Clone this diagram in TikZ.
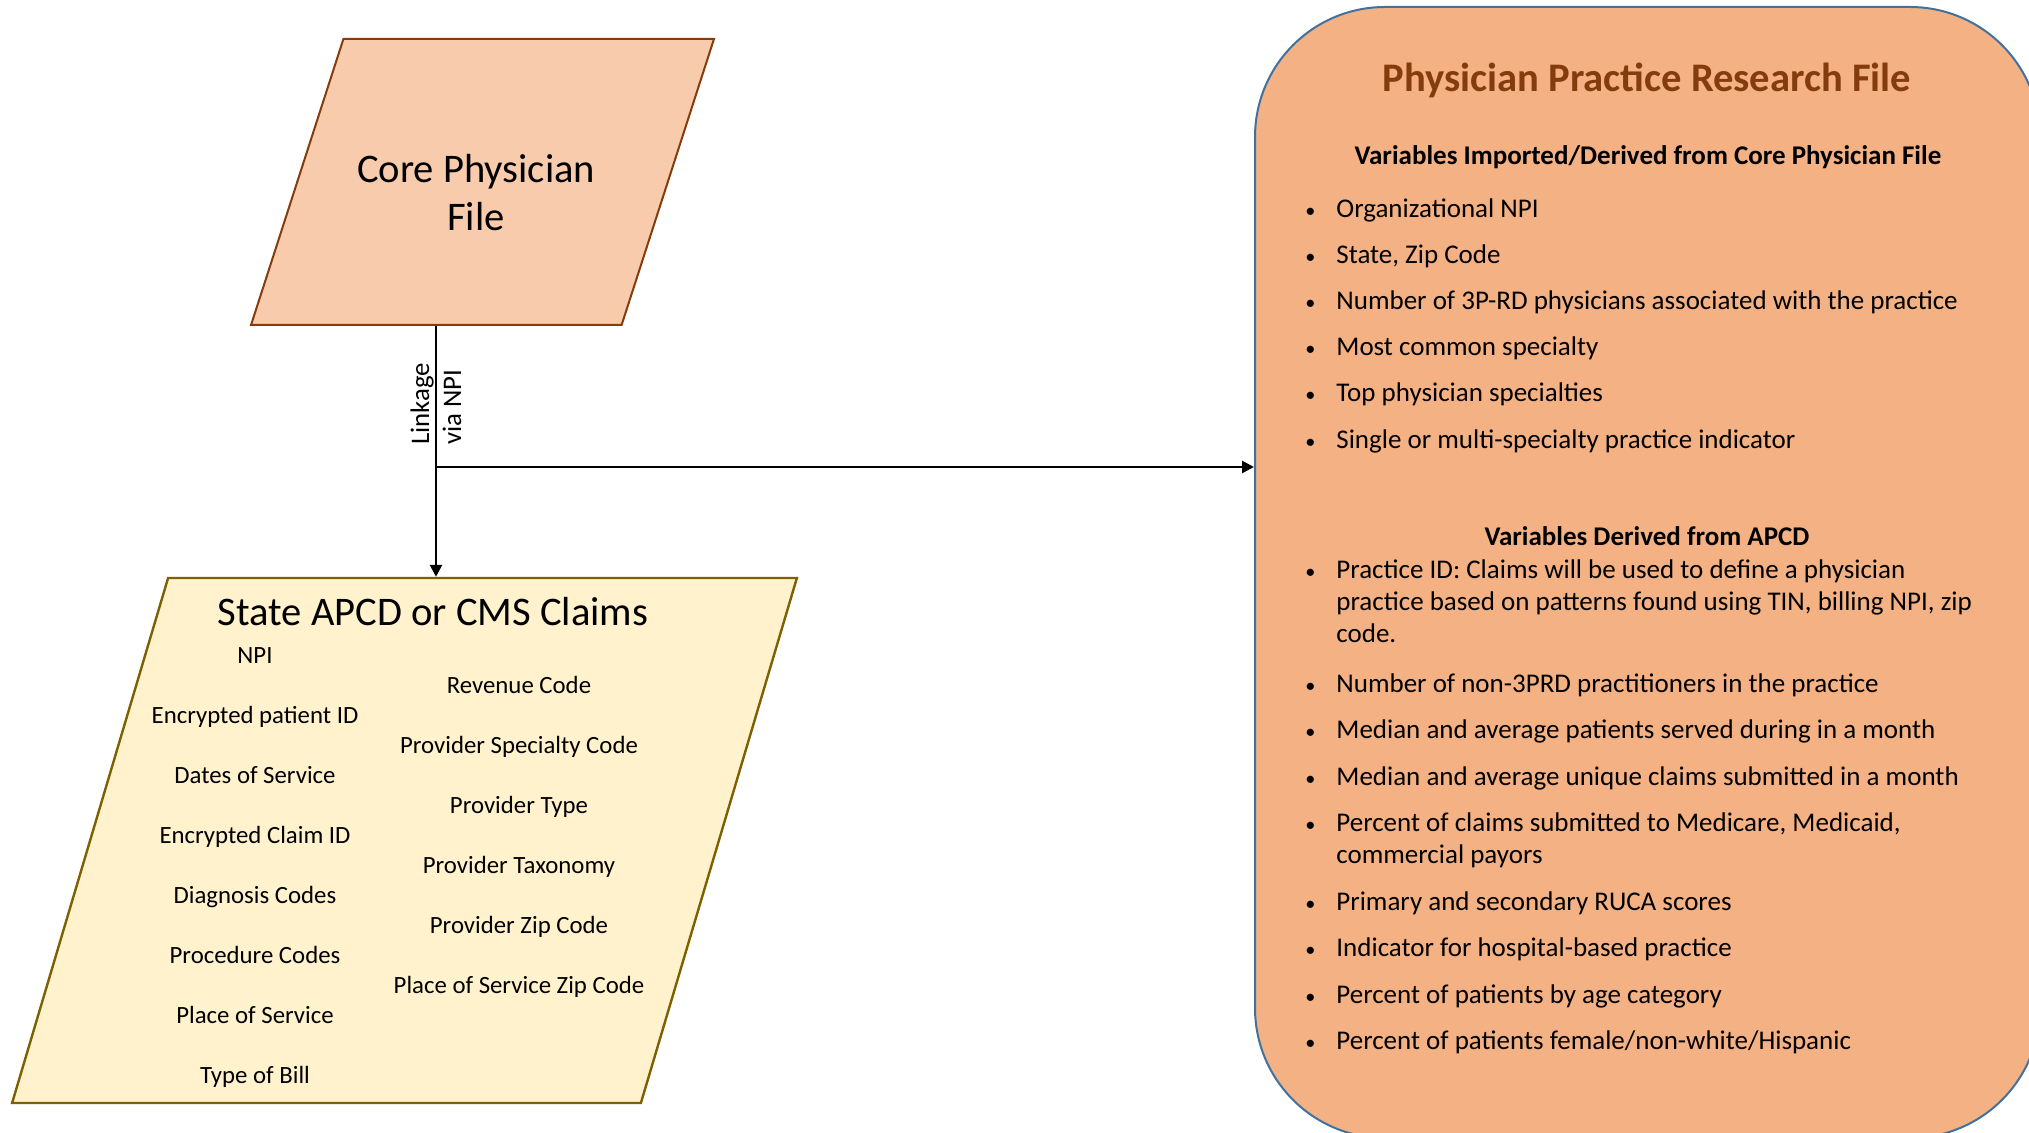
\documentclass[tikz,border=0pt]{standalone}
\usepackage{fontspec}
\setmainfont{Carlito}
\usetikzlibrary{shapes.geometric,arrows.meta}

\definecolor{corefill}{HTML}{F8CBAD}
\definecolor{coreline}{HTML}{843C0C}
\definecolor{apcdfill}{HTML}{FFF2CC}
\definecolor{apcdline}{HTML}{7F6000}
\definecolor{pprfill}{HTML}{F4B183}
\definecolor{pprline}{HTML}{41719C}

\newcommand{\bigfont}{\fontsize{20.3}{24}\selectfont}
\newcommand{\claimfont}{\fontsize{12.4}{15}\selectfont}
\newcommand{\listfont}{\fontsize{13.5}{16}\selectfont}
\newcommand{\linkfont}{\fontsize{13.4}{16}\selectfont}
\newcommand{\bl}{\llap{\makebox[26pt]{\scalebox{0.75}{\textbullet}}}}
\newcommand{\lines}[1]{\begin{tabular}[t]{@{}l@{}}#1\end{tabular}}

\tikzset{
  datafile/.style={trapezium, inner sep=0pt, text depth=0pt},
  claimvar/.style={anchor=base, inner sep=0pt, font=\claimfont},
  pvar/.style={anchor=base west, inner sep=0pt, font=\listfont},
  phead/.style={anchor=base, inner sep=0pt, font=\listfont\bfseries},
  flowarrow/.style={line width=1.3pt, -{Triangle[length=6pt,width=6pt]}}
}

\begin{document}
\begin{tikzpicture}[x=0.5pt,y=-0.5pt]
	\useasboundingbox (0,0) rectangle (2029,1133);
	\clip (0,0) rectangle (2029,1133);

	% the two data files
	\node (core) [datafile, trapezium left angle=72.1, trapezium right angle=107.9,
		text width=139.1pt, text height=143pt, fill=corefill, draw=coreline, line width=1pt] at (482.5,182) {};
	\node (coretext) [font=\bigfont, align=center] at ([xshift=-3.2pt,yshift=-5.5pt]core.center) {Core Physician\\File};
	\node (claims) [datafile, trapezium left angle=73.45, trapezium right angle=106.55,
		text width=236.4pt, text height=262.5pt, fill=apcdfill, draw=apcdline, line width=1.2pt] at (404.5,840.5) {};
	\node (claimstitle) [anchor=base, inner sep=0pt, font=\bigfont] at (433,625) {State APCD or CMS Claims};
	\foreach \v [count=\i] in {NPI, Encrypted patient ID, Dates of Service, Encrypted Claim ID,
		Diagnosis Codes, Procedure Codes, Place of Service, Type of Bill}
		\node (lv\i) [claimvar] at (255,{603+60*\i}) {\v};
	\foreach \v [count=\i] in {Revenue Code, Provider Specialty Code, Provider Type,
		Provider Taxonomy, Provider Zip Code, Place of Service Zip Code}
		\node (rv\i) [claimvar] at (519,{633+60*\i}) {\v};

	% research file
	\node (ppr) [draw=pprline, fill=pprfill, line width=1pt, rounded corners=65pt,
		minimum width=392.5pt, minimum height=565.5pt] at (1647.5,572.5) {};
	\node (pprtitle) [anchor=base, inner sep=0pt, font=\bigfont\bfseries, text=coreline] at (1647,92) {Physician Practice Research File};
	\node (head1) [phead] at (1648,165) {Variables Imported/Derived from Core Physician File};
	\foreach \v [count=\i] in {Organizational NPI, {State, Zip Code},
		Number of 3P-RD physicians associated with the practice, Most common specialty,
		Top physician specialties, Single or multi-specialty practice indicator}
		\node (pa\i) [pvar] at (1336,{171+46.2*\i}) {\bl\v};
	\node (head2) [phead] at (1647,546) {Variables Derived from APCD};
	\node (pb1) [pvar] at (1336,579) {\bl\lines{Practice ID: Claims will be used to define a physician\\
		practice based on patterns found using TIN, billing NPI, zip\\code.}};
	\node (pb2) [pvar] at (1336,692) {\bl Number of non-3PRD practitioners in the practice};
	\node (pb3) [pvar] at (1336,738) {\bl Median and average patients served during in a month};
	\node (pb4) [pvar] at (1336,785) {\bl Median and average unique claims submitted in a month};
	\node (pb5) [pvar] at (1336,831) {\bl\lines{Percent of claims submitted to Medicare, Medicaid,\\commercial payors}};
	\node (pb6) [pvar] at (1336,910) {\bl Primary and secondary RUCA scores};
	\node (pb7) [pvar] at (1336,956) {\bl Indicator for hospital-based practice};
	\node (pb8) [pvar] at (1336,1003) {\bl Percent of patients by age category};
	\node (pb9) [pvar] at (1336,1049) {\bl Percent of patients female/non-white/Hispanic};

	% linkage
	\draw[flowarrow] (core.bottom side) -- node[pos=0.478, rotate=90, anchor=west, inner sep=0pt,
		align=left, font=\linkfont] (linklabel) {Linkage\\via NPI} (core.bottom side |- claims.top side);
	\path (core.bottom side) ++(0,141) coordinate (fork);
	\draw[flowarrow] (fork) -- (fork -| ppr.west);
\end{tikzpicture}
\end{document}
